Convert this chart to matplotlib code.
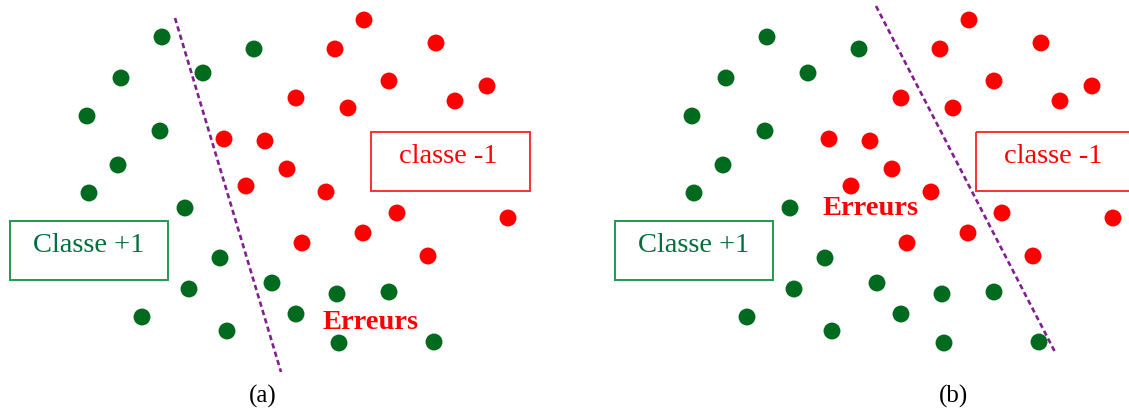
import matplotlib
matplotlib.use("Agg")
import matplotlib.pyplot as plt
from matplotlib.patches import Rectangle

# Same point cloud in both panels (panel-local pixel coords, y downwards)
green_x = [162, 254, 203, 121, 87, 160, 118, 89, 185, 220, 272, 189, 337, 389, 142, 296, 227, 339, 434]
green_y = [38, 50, 74, 79, 117, 132, 166, 194, 209, 259, 284, 290, 295, 293, 318, 315, 332, 344, 343]
red_x = [364, 335, 436, 389, 487, 296, 348, 455, 224, 265, 287, 246, 326, 397, 508, 363, 302, 428]
red_y = [21, 50, 44, 82, 87, 99, 109, 102, 140, 142, 170, 187, 193, 214, 219, 234, 244, 257]

# Separating lines for each panel
sep_a_x = [175, 281]
sep_a_y = [19, 373]
sep_b_x = [271, 450]
sep_b_y = [7, 353]

panel_labels = ["(a)", "(b)"]

GREEN = "#006A1E"
RED = "#FF0000"
PURPLE = "#80208F"
SERIF = ["Liberation Serif", "DejaVu Serif"]

fig = plt.figure(figsize=(11.29, 4.10), dpi=100)
W = 605 / 1129
axes = [fig.add_axes([0, 0, W, 1]), fig.add_axes([W, 0, W, 1])]

for ax, (sx, sy), err_pos in zip(
        axes,
        [(sep_a_x, sep_a_y), (sep_b_x, sep_b_y)],
        [(371, 323), (266, 209)]):
    ax.set_xlim(0, 605)
    ax.set_ylim(410, 0)
    ax.axis("off")

    ax.scatter(green_x, green_y, s=148, color=GREEN, edgecolors="none", zorder=3)
    ax.scatter(red_x, red_y, s=148, color=RED, edgecolors="none", zorder=3)
    ax.plot(sx, sy, color=PURPLE, lw=1.9, dashes=(2.0, 1.3), zorder=2)

    # class boxes
    ax.add_patch(Rectangle((10, 222), 158, 59, fill=False, ec="#1E9A50", lw=1.4, zorder=4))
    ax.text(89, 246, "Classe +1", color="#006F3C", fontsize=20.5, family=SERIF,
            ha="center", va="center", zorder=5)
    ax.add_patch(Rectangle((371, 133), 159, 59, fill=False, ec="#FF3030", lw=1.4, zorder=4))
    ax.text(448, 157, "classe -1", color=RED, fontsize=20.5, family=SERIF,
            ha="center", va="center", zorder=5)

    ax.text(err_pos[0], err_pos[1], "Erreurs", color=RED, fontsize=20.5, family=SERIF,
            fontweight="bold", ha="center", va="center", zorder=5)

for ax, lab, lx in zip(axes, panel_labels, [263, 348]):
    ax.text(lx, 396, lab, color="black", fontsize=18, family=SERIF,
            ha="center", va="center")

fig.savefig("out.png", dpi=100)
